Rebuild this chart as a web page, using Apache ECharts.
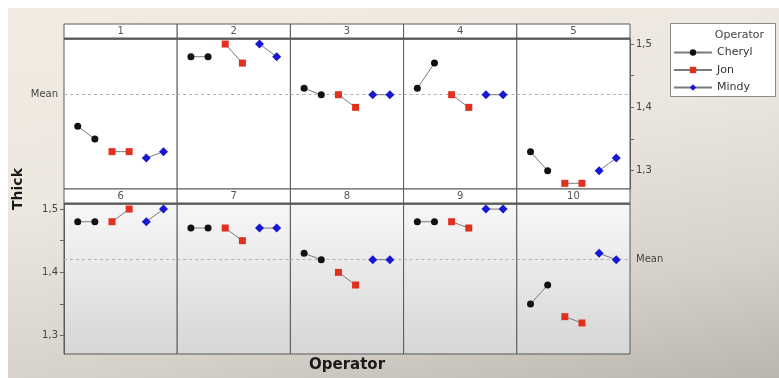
<!DOCTYPE html>
<html>
<head>
<meta charset="utf-8">
<script src="https://cdn.jsdelivr.net/npm/echarts@6/dist/echarts.min.js"></script>
<style>
  html, body { margin: 0; padding: 0; }
  body {
    width: 779px; height: 378px; overflow: hidden;
    background: #fff;
  }
  #frame {
    position: absolute; left: 8px; top: 8px; width: 771px; height: 370px;
    background:
      linear-gradient(170deg, rgba(242,236,226,1) 0%, rgba(236,231,223,1) 40%, rgba(214,209,201,1) 75%, rgba(186,181,173,1) 100%);
  }
  #chart { position: absolute; left: 0; top: 0; width: 779px; height: 378px; }
</style>
</head>
<body>
<div id="frame"></div>
<div id="chart"></div>
<script>
// Gage run chart: thickness by part, operator and trial
const parts = ['1', '2', '3', '4', '5', '6', '7', '8', '9', '10'];
const operators = ['Cheryl', 'Jon', 'Mindy'];
const trialSlots = [[1, 2], [3, 4], [5, 6]];

const cheryl = [[1.37, 1.35], [1.48, 1.48], [1.43, 1.42], [1.43, 1.47], [1.33, 1.30],
                [1.48, 1.48], [1.47, 1.47], [1.43, 1.42], [1.48, 1.48], [1.35, 1.38]];
const jon    = [[1.33, 1.33], [1.50, 1.47], [1.42, 1.40], [1.42, 1.40], [1.28, 1.28],
                [1.48, 1.50], [1.47, 1.45], [1.40, 1.38], [1.48, 1.47], [1.33, 1.32]];
const mindy  = [[1.32, 1.33], [1.50, 1.48], [1.42, 1.42], [1.42, 1.42], [1.30, 1.32],
                [1.48, 1.50], [1.47, 1.47], [1.42, 1.42], [1.50, 1.50], [1.43, 1.42]];

const yTickLabels = [1.3, 1.4, 1.5];
const yTickMarks = [1.3, 1.35, 1.4, 1.45, 1.5];

const measurements = [cheryl, jon, mindy];
const allValues = measurements.flat(2);
const grandMean = allValues.reduce((a, b) => a + b, 0) / allValues.length;

const Y_MIN = 1.271, Y_MAX = 1.508;
const PANEL_LEFT = 64, PANEL_W = 113.2, PANEL_H = 150, STRIP_H = 15;
const ROW_TOP = [39, 204];

const opStyle = {
  Cheryl: { symbol: 'circle', size: 7, color: '#111111' },
  Jon:    { symbol: 'rect', size: 7, color: '#e2301f' },
  Mindy:  { symbol: 'diamond', size: 9, color: '#1717d4' }
};

const fmt = v => v.toFixed(1).replace('.', ',');
const labelFont = { fontFamily: 'DejaVu Sans', fontSize: 10, color: '#444' };

const grids = [], xAxes = [], yAxes = [], series = [], graphics = [];

parts.forEach((part, i) => {
  const row = Math.floor(i / 5), col = i % 5;
  const left = PANEL_LEFT + col * PANEL_W;
  const top = ROW_TOP[row];
  const bg = row === 0 ? '#ffffff' : new echarts.graphic.LinearGradient(0, 0, 0, 1, [
    { offset: 0, color: '#f7f7f7' }, { offset: 1, color: '#d6d6d6' }
  ]);
  grids.push({ left, top, width: PANEL_W, height: PANEL_H, show: true,
               backgroundColor: bg, borderColor: '#5a5a5a', borderWidth: 1 });
  xAxes.push({ gridIndex: i, type: 'value', min: 0.2, max: 6.8, show: false });

  const showLeft = i === 5, showRight = i === 4;
  const showAxis = showLeft || showRight;
  yAxes.push({
    gridIndex: i, type: 'value', min: Y_MIN, max: Y_MAX,
    position: showRight ? 'right' : 'left',
    show: showAxis,
    splitLine: { show: false },
    axisLine: { show: showAxis, lineStyle: { color: '#5a5a5a' } },
    axisTick: { show: showAxis, length: 4, customValues: yTickMarks, lineStyle: { color: '#666' } },
    axisLabel: { show: showAxis, margin: 6, customValues: yTickLabels, formatter: fmt, ...labelFont }
  });

  // strip header with the part number
  graphics.push({
    type: 'rect', z: 10,
    shape: { x: left, y: top - STRIP_H, width: PANEL_W, height: STRIP_H },
    style: { fill: '#ffffff', stroke: '#5a5a5a', lineWidth: 1 }
  });
  graphics.push({
    type: 'line', z: 11,
    shape: { x1: left, y1: top - 0.5, x2: left + PANEL_W, y2: top - 0.5 },
    style: { stroke: '#5a5a5a', lineWidth: 2 }
  });
  graphics.push({
    type: 'text', z: 12, x: left + PANEL_W / 2, y: top - STRIP_H / 2,
    style: { text: part, align: 'center', verticalAlign: 'middle',
             font: '10px "DejaVu Sans"', fill: '#555' }
  });

  operators.forEach((op, k) => {
    const vals = measurements[k][i];
    const st = opStyle[op];
    const s = {
      name: op, type: 'line', xAxisIndex: i, yAxisIndex: i,
      data: trialSlots[k].map((x, t) => [x, vals[t]]),
      symbol: st.symbol, symbolSize: st.size, showSymbol: true,
      lineStyle: { color: '#7a7a7a', width: 1 },
      itemStyle: { color: st.color },
      emphasis: { disabled: true },
      animation: false, z: 5
    };
    if (k === 0) {
      let label = { show: false };
      if (i === 0) label = { show: true, position: 'start', formatter: 'Mean', distance: 6, ...labelFont };
      if (i === 9) label = { show: true, position: 'end', formatter: 'Mean', distance: 6, ...labelFont };
      s.markLine = {
        silent: true, symbol: 'none', animation: false,
        data: [{ yAxis: grandMean }],
        lineStyle: { color: '#b0b0b0', type: [3, 3], width: 1 },
        label
      };
    }
    series.push(s);
  });
});

// legend box and its title
graphics.push({
  type: 'rect', z: 1,
  shape: { x: 670.5, y: 23.5, width: 105, height: 73 },
  style: { fill: '#ffffff', stroke: '#8a8a8a', lineWidth: 1 }
});
graphics.push({
  type: 'text', z: 2, x: 764, y: 35,
  style: { text: 'Operator', align: 'right', verticalAlign: 'middle',
           font: '11px "DejaVu Sans"', fill: '#444' }
});
// axis titles
graphics.push({
  type: 'text', x: 18, y: 189, rotation: Math.PI / 2,
  style: { text: 'Thick', align: 'center', verticalAlign: 'middle',
           font: 'bold 14px "DejaVu Sans"', fill: '#1a1a1a' }
});
graphics.push({
  type: 'text', x: 347, y: 365,
  style: { text: 'Operator', align: 'center', verticalAlign: 'middle',
           font: 'bold 15px "DejaVu Sans"', fill: '#1a1a1a' }
});

const chart = echarts.init(document.getElementById('chart'), null, { renderer: 'canvas' });
chart.setOption({
  backgroundColor: 'transparent',
  animation: false,
  grid: grids,
  xAxis: xAxes,
  yAxis: yAxes,
  series,
  legend: {
    data: operators, orient: 'vertical', left: 673, top: 47,
    itemWidth: 38, itemHeight: 8, itemGap: 6.5, padding: 0,
    selectedMode: false,
    textStyle: { fontFamily: 'DejaVu Sans', fontSize: 11, color: '#333' }
  },
  graphic: graphics
});
</script>
</body>
</html>
